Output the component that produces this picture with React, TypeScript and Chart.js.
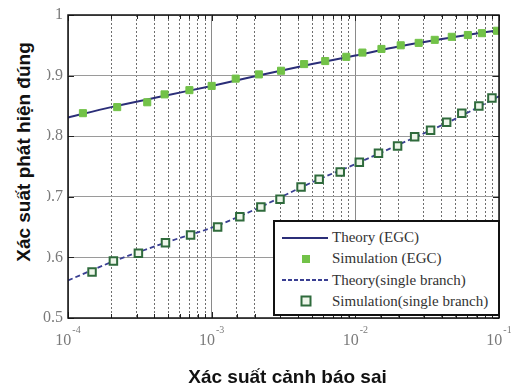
import React, { useEffect, useRef } from 'react';
import { Chart, registerables } from 'chart.js';

Chart.register(...registerables);

// ---------- data ----------
const simEgcPfa = [1.27e-4, 2.2e-4, 3.56e-4, 4.7e-4, 7.0e-4, 1.0e-3, 1.47e-3, 2.13e-3, 3.04e-3, 4.4e-3, 6.17e-3, 8.65e-3, 0.0112, 0.0152, 0.0207, 0.0276, 0.0357, 0.0469, 0.0607, 0.076, 0.0969];
const simEgcPd = [0.838, 0.848, 0.856, 0.869, 0.876, 0.883, 0.895, 0.902, 0.908, 0.919, 0.924, 0.931, 0.938, 0.944, 0.950, 0.954, 0.959, 0.964, 0.967, 0.970, 0.974];

const simSinglePfa = [1.47e-4, 2.07e-4, 3.09e-4, 4.77e-4, 7.13e-4, 1.10e-3, 1.57e-3, 2.20e-3, 2.99e-3, 4.19e-3, 5.60e-3, 7.85e-3, 0.01066, 0.01449, 0.01968, 0.02588, 0.0334, 0.0432, 0.0551, 0.0724, 0.0893];
const simSinglePd = [0.576, 0.594, 0.607, 0.624, 0.637, 0.650, 0.667, 0.683, 0.696, 0.716, 0.729, 0.741, 0.757, 0.772, 0.784, 0.799, 0.810, 0.823, 0.838, 0.850, 0.863];

const theoryPfa = [1e-4, 2e-4, 5e-4, 1e-3, 2e-3, 5e-3, 1e-2, 2e-2, 5e-2, 1e-1];
const theoryEgcPd = [0.831, 0.848, 0.868, 0.883, 0.899, 0.919, 0.933, 0.948, 0.964, 0.975];
const theorySinglePd = [0.562, 0.592, 0.626, 0.649, 0.679, 0.724, 0.754, 0.786, 0.829, 0.866];

const xTickValues = [1e-4, 1e-3, 1e-2, 1e-1];
const xTickBase = '10';
const xTickExponents = ['-4', '-3', '-2', '-1'];

const legendLabels = ['Theory (EGC)', 'Simulation (EGC)', 'Theory(single branch)', 'Simulation(single branch)'];
const xTitle = 'Xác suất cảnh báo sai';
const yTitle = 'Xác suất phát hiện đúng';

// ---------- styles ----------
const navy = '#2b2e78';
const navyDash = '#3a3f92';
const green = '#72c248';
const darkGreen = '#2f6b3c';
const serif = '"Liberation Serif", Tinos, "DejaVu Serif", "Times New Roman", Times, serif';
const sans = '"Liberation Sans", Arial, sans-serif';

const isDecade = (v: number) => {
  const e = Math.log10(v);
  return Math.abs(e - Math.round(e)) < 1e-6;
};

const framePlugin = {
  id: 'frame',
  afterDraw(chart: any) {
    const { ctx, chartArea: a, scales } = chart;
    const xs = scales.x;
    const ys = scales.y;
    ctx.save();
    ctx.strokeStyle = '#222';
    ctx.lineWidth = 1;
    ctx.beginPath();
    xs.ticks.forEach((t: any) => {
      const px = Math.round(xs.getPixelForValue(t.value)) + 0.5;
      const len = isDecade(t.value) ? 6 : 4;
      ctx.moveTo(px, a.bottom);
      ctx.lineTo(px, a.bottom - len);
      ctx.moveTo(px, a.top);
      ctx.lineTo(px, a.top + len);
    });
    ys.ticks.forEach((t: any) => {
      const py = Math.round(ys.getPixelForValue(t.value)) + 0.5;
      ctx.moveTo(a.left, py);
      ctx.lineTo(a.left + 6, py);
      ctx.moveTo(a.right, py);
      ctx.lineTo(a.right - 6, py);
    });
    ctx.stroke();
    ctx.strokeStyle = '#111';
    ctx.lineWidth = 1.5;
    ctx.strokeRect(a.left, a.top, a.right - a.left, a.bottom - a.top);

    // x tick labels 10^n
    ctx.fillStyle = '#7a7a7a';
    ctx.textBaseline = 'alphabetic';
    ctx.textAlign = 'left';
    xTickValues.forEach((v, i) => {
      const px = xs.getPixelForValue(v);
      ctx.font = `16px ${serif}`;
      const w1 = ctx.measureText(xTickBase).width;
      ctx.font = `10px ${serif}`;
      const w2 = ctx.measureText(xTickExponents[i]).width;
      const x0 = px - (w1 + w2 + 1) / 2;
      ctx.font = `16px ${serif}`;
      ctx.fillText(xTickBase, x0, a.bottom + 27);
      ctx.font = `10px ${serif}`;
      ctx.fillText(xTickExponents[i], x0 + w1 + 1, a.bottom + 15);
    });
    ctx.restore();
  },
};

export default function App() {
  const canvasRef = useRef<HTMLCanvasElement | null>(null);

  useEffect(() => {
    if (!canvasRef.current) return;
    const chart = new Chart(canvasRef.current, {
      type: 'line',
      data: {
        datasets: [
          {
            label: legendLabels[1],
            data: simEgcPfa.map((x, i) => ({ x, y: simEgcPd[i] })),
            showLine: false,
            pointStyle: 'rect',
            pointRadius: 5,
            backgroundColor: green,
            borderColor: green,
            borderWidth: 1,
            order: 0,
          },
          {
            label: legendLabels[3],
            data: simSinglePfa.map((x, i) => ({ x, y: simSinglePd[i] })),
            showLine: false,
            pointStyle: 'rect',
            pointRadius: 5.3,
            backgroundColor: '#eef6ea',
            borderColor: darkGreen,
            borderWidth: 2,
            order: 1,
          },
          {
            label: legendLabels[0],
            data: theoryPfa.map((x, i) => ({ x, y: theoryEgcPd[i] })),
            borderColor: navy,
            borderWidth: 2,
            pointRadius: 0,
            cubicInterpolationMode: 'monotone',
            fill: false,
            order: 2,
          },
          {
            label: legendLabels[2],
            data: theoryPfa.map((x, i) => ({ x, y: theorySinglePd[i] })),
            borderColor: navyDash,
            borderWidth: 1.8,
            borderDash: [5, 3],
            pointRadius: 0,
            cubicInterpolationMode: 'monotone',
            fill: false,
            order: 3,
          },
        ],
      },
      options: {
        responsive: false,
        animation: false,
        layout: { padding: { top: 15, right: 12, left: 0, bottom: 0 } },
        plugins: {
          legend: { display: false },
          tooltip: { enabled: false },
        },
        scales: {
          x: {
            type: 'logarithmic',
            min: 1e-4,
            max: 1e-1,
            afterFit: (s: any) => {
              s.height = 71;
            },
            ticks: { display: false, autoSkip: false },
            border: {
              display: false,
              dash: (c: any) => (c.tick && !isDecade(c.tick.value) ? [2, 2] : []),
            },
            grid: {
              drawTicks: false,
              color: (c: any) => (c.tick && isDecade(c.tick.value) ? '#8a8a8a' : '#6e6e6e'),
              lineWidth: 1,
            },
          },
          y: {
            type: 'linear',
            min: 0.5,
            max: 1,
            afterFit: (s: any) => {
              s.width = 68;
            },
            ticks: {
              stepSize: 0.1,
              padding: 5,
              color: '#7a7a7a',
              font: { family: serif, size: 16 },
              callback: (v: any) => (Math.abs(v - 1) < 1e-9 ? '1' : Number(v).toFixed(1)),
            },
            border: { display: false },
            grid: { drawTicks: false, color: '#9a9a9a', lineWidth: 1 },
          },
        },
      },
      plugins: [framePlugin],
    } as any);
    return () => chart.destroy();
  }, []);

  const rowTop = (i: number) => 5 + i * 21.3;

  const sample = (i: number) => {
    if (i === 0)
      return (
        <svg width={46} height={12}>
          <line x1={0} y1={6} x2={46} y2={6} stroke={navy} strokeWidth={2} />
        </svg>
      );
    if (i === 1)
      return (
        <svg width={46} height={12}>
          <rect x={20} y={2} width={8} height={8} fill={green} />
        </svg>
      );
    if (i === 2)
      return (
        <svg width={46} height={12}>
          <line x1={0} y1={6} x2={46} y2={6} stroke={navyDash} strokeWidth={1.8} strokeDasharray="4 2" />
        </svg>
      );
    return (
      <svg width={46} height={12}>
        <rect x={19.5} y={1.5} width={9} height={9} fill="#eef6ea" stroke={darkGreen} strokeWidth={2} />
      </svg>
    );
  };

  return (
    <div style={{ position: 'absolute', left: 0, top: 0, width: 511, height: 389, background: '#fff', overflow: 'hidden' }}>
      <canvas ref={canvasRef} width={511} height={389} style={{ position: 'absolute', left: 0, top: 0 }} />
      {/* y title */}
      <div style={{ position: 'absolute', left: 0, top: 26, width: 47, height: 276, background: '#fff' }} />
      <div
        style={{
          position: 'absolute',
          left: 24,
          top: 152,
          transform: 'translate(-50%, -50%) rotate(-90deg)',
          whiteSpace: 'nowrap',
          fontFamily: sans,
          fontWeight: 'bold',
          fontSize: 19,
          lineHeight: '22px',
          color: '#111',
        }}
      >
        {yTitle}
      </div>
      {/* x title */}
      <div
        style={{
          position: 'absolute',
          left: 287.5,
          top: 366,
          transform: 'translateX(-50%)',
          whiteSpace: 'nowrap',
          fontFamily: sans,
          fontWeight: 'bold',
          fontSize: 19,
          lineHeight: '22px',
          color: '#111',
        }}
      >
        {xTitle}
      </div>
      {/* legend */}
      <div
        style={{
          position: 'absolute',
          left: 273,
          top: 220,
          width: 227,
          height: 96,
          boxSizing: 'border-box',
          border: '2px solid #111',
          background: '#fff',
        }}
      >
        {legendLabels.map((lab, i) => (
          <div
            key={lab}
            style={{
              position: 'absolute',
              left: 7,
              top: rowTop(i),
              height: 21,
              display: 'flex',
              alignItems: 'center',
              whiteSpace: 'nowrap',
            }}
          >
            {sample(i)}
            <span style={{ marginLeft: 4, fontFamily: serif, fontSize: 15, color: '#333', lineHeight: '21px' }}>{lab}</span>
          </div>
        ))}
      </div>
    </div>
  );
}
